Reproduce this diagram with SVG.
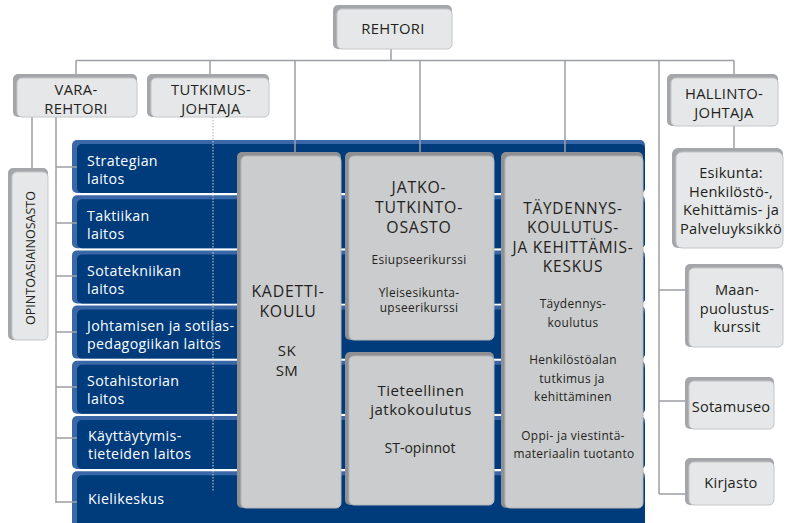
<svg xmlns="http://www.w3.org/2000/svg" width="785" height="523" viewBox="0 0 785 523">
<style>
.line{stroke:#9d9fa2;stroke-width:1.5;fill:none}
.dot{stroke:#b8bcc4;stroke-width:1.2;stroke-dasharray:1.5 1.5;fill:none}
.hb{fill:#a4a6a9}
.hf{fill:#e6e7e8;stroke:#c4c6c8;stroke-width:1}
.bb{fill:#3a67a8}
.bf{fill:#003b7c}
.cb{fill:#8e9093}
.cf{fill:#cbcccd;stroke:#b5b6b8;stroke-width:1}
text{font-family:"Open Sans","Liberation Sans",sans-serif;fill:#231f20;text-anchor:middle}
.w{fill:#ffffff;text-anchor:start;font-size:14.2px;letter-spacing:0.35px}
.h{font-size:14.8px;letter-spacing:0.3px}
.r{font-size:14.6px;letter-spacing:0.25px}
.big{font-size:15.8px;letter-spacing:0.8px}
.tb{font-size:15.4px;letter-spacing:0.8px}
.sm{font-size:11.9px;letter-spacing:0.35px}
.md{font-size:15px;letter-spacing:0.5px}
</style>
<rect width="785" height="523" fill="#ffffff"/>

<!-- blue rows -->
<g id="rows">
  <g id="row1"><rect class="bb" x="72" y="140" width="573" height="53" rx="5"/><rect class="bf" x="77" y="144" width="568" height="49" rx="5"/><text class="w" x="87" y="166">Strategian</text><text class="w" x="87" y="184">laitos</text></g>
  <g id="row2"><rect class="bb" x="72" y="195.2" width="573" height="53" rx="5"/><rect class="bf" x="77" y="199.2" width="568" height="49" rx="5"/><text class="w" x="87" y="221">Taktiikan</text><text class="w" x="87" y="239">laitos</text></g>
  <g id="row3"><rect class="bb" x="72" y="250.4" width="573" height="53" rx="5"/><rect class="bf" x="77" y="254.4" width="568" height="49" rx="5"/><text class="w" x="87" y="276">Sotatekniikan</text><text class="w" x="87" y="294">laitos</text></g>
  <g id="row4"><rect class="bb" x="72" y="305.6" width="573" height="53" rx="5"/><rect class="bf" x="77" y="309.6" width="568" height="49" rx="5"/><text class="w" x="87" y="331">Johtamisen ja sotilas-</text><text class="w" x="87" y="349">pedagogiikan laitos</text></g>
  <g id="row5"><rect class="bb" x="72" y="360.8" width="573" height="53" rx="5"/><rect class="bf" x="77" y="364.8" width="568" height="49" rx="5"/><text class="w" x="87" y="386">Sotahistorian</text><text class="w" x="87" y="404">laitos</text></g>
  <g id="row6"><rect class="bb" x="72" y="416" width="573" height="53" rx="5"/><rect class="bf" x="77" y="420" width="568" height="49" rx="5"/><text class="w" x="88" y="441">Käyttäytymis-</text><text class="w" x="88" y="459">tieteiden laitos</text></g>
  <g id="row7"><rect class="bb" x="72" y="471.2" width="573" height="56" rx="5"/><rect class="bf" x="77" y="475.2" width="568" height="52" rx="5"/><text class="w" x="88" y="504">Kielikeskus</text></g>
</g>

<!-- connectors -->
<g id="connectors">
  <path class="line" d="M391 49 V60.5 M76 60.5 H734 M76 60.5 V74 M210 60.5 V74 M295 60.5 V152 M420 60.5 V152 M565 60.5 V152 M659 60.5 V494 M734 60.5 V74 M734 126 V148"/>
  <path class="line" d="M32 117 V168 M56 117 V503"/>
  <path class="line" d="M56 167 H77 M56 223 H77 M56 276 H77 M56 332 H77 M56 387 H77 M56 438 H77 M56 502 H77"/>
  <path class="line" d="M659 290 H685 M659 401 H685 M659 494 H685"/>
  <path class="dot" d="M213 117 V492"/>
</g>

<!-- top boxes -->
<g id="rehtori"><rect class="hb" x="333" y="5" width="119" height="44" rx="5"/><rect class="hf" x="337" y="9" width="115" height="40" rx="5"/><text class="h" x="393" y="34" font-size="15.4">REHTORI</text></g>
<g id="vararehtori"><rect class="hb" x="13" y="74" width="124" height="43" rx="5"/><rect class="hf" x="17" y="78" width="120" height="39" rx="5"/><text class="h" x="76" y="94.5">VARA-</text><text class="h" x="76" y="113.5">REHTORI</text></g>
<g id="tutkimusjohtaja"><rect class="hb" x="147" y="74" width="122" height="43" rx="5"/><rect class="hf" x="151" y="78" width="118" height="39" rx="5"/><text class="h" x="211" y="94.5">TUTKIMUS-</text><text class="h" x="211" y="113.5">JOHTAJA</text></g>
<g id="hallintojohtaja"><rect class="hb" x="667" y="74" width="111" height="52" rx="5"/><rect class="hf" x="671" y="78" width="107" height="48" rx="5"/><text class="h" x="724" y="98.5">HALLINTO-</text><text class="h" x="724" y="117.5">JOHTAJA</text></g>

<g id="opintoasiainosasto"><rect class="hb" x="8" y="168" width="40" height="172" rx="5"/><rect class="hf" x="12" y="172" width="36" height="168" rx="5"/><text font-size="12.5" transform="translate(35 258) rotate(-90)">OPINTOASIAINOSASTO</text></g>

<!-- grey columns -->
<g id="kadettikoulu"><rect class="cb" x="237" y="152" width="104" height="356" rx="5"/><rect class="cf" x="241" y="156" width="100" height="352" rx="5"/><text class="big" x="288" y="297">KADETTI-</text><text class="big" x="288" y="317">KOULU</text><text class="md" x="287" y="356">SK</text><text class="md" x="287" y="376">SM</text></g>
<g id="jatkotutkinto"><rect class="cb" x="345" y="152" width="149" height="188" rx="5"/><rect class="cf" x="349" y="156" width="145" height="184" rx="5"/><text class="big" x="419" y="193">JATKO-</text><text class="big" x="419" y="213">TUTKINTO-</text><text class="big" x="419" y="233">OSASTO</text><text class="sm" x="419" y="264">Esiupseerikurssi</text><text class="sm" x="419" y="297">Yleisesikunta-</text><text class="sm" x="419" y="312">upseerikurssi</text></g>
<g id="tieteellinen"><rect class="cb" x="345" y="352" width="149" height="153" rx="5"/><rect class="cf" x="349" y="356" width="145" height="149" rx="5"/><text class="md" x="421" y="396">Tieteellinen</text><text class="md" x="421" y="415">jatkokoulutus</text><text font-size="14" x="420" y="453">ST-opinnot</text></g>
<g id="taydennys"><rect class="cb" x="501" y="152" width="142" height="356" rx="5"/><rect class="cf" x="505" y="156" width="138" height="352" rx="5"/><text class="tb" x="573" y="213.5">TÄYDENNYS-</text><text class="tb" x="573" y="233">KOULUTUS-</text><text class="tb" x="573" y="252.5">JA KEHITTÄMIS-</text><text class="tb" x="573" y="272">KESKUS</text><text class="sm" x="573" y="308">Täydennys-</text><text class="sm" x="573" y="327">koulutus</text><text class="sm" x="573" y="364">Henkilöstöalan</text><text class="sm" x="572" y="383">tutkimus ja</text><text class="sm" x="573" y="401">kehittäminen</text><text class="sm" x="573" y="440">Oppi- ja viestintä-</text><text class="sm" x="574" y="458">materiaalin tuotanto</text></g>

<!-- right boxes -->
<g id="esikunta"><rect class="hb" x="672" y="148" width="111" height="100" rx="6"/><rect class="hf" x="676" y="152" width="107" height="96" rx="6"/><text class="r" x="731" y="178">Esikunta:</text><text class="r" x="731" y="196.7">Henkilöstö-,</text><text class="r" x="731" y="215.4">Kehittämis- ja</text><text class="r" x="731" y="234">Palveluyksikkö</text></g>
<g id="maanpuolustus"><rect class="hb" x="685" y="264" width="98" height="83" rx="5"/><rect class="hf" x="689" y="268" width="94" height="79" rx="5"/><text class="r" x="737" y="295">Maan-</text><text class="r" x="737" y="313.5">puolustus-</text><text class="r" x="737" y="332">kurssit</text></g>
<g id="sotamuseo"><rect class="hb" x="685" y="377" width="89" height="52" rx="5"/><rect class="hf" x="689" y="381" width="85" height="48" rx="5"/><text class="r" x="731" y="412" font-size="15.4">Sotamuseo</text></g>
<g id="kirjasto"><rect class="hb" x="685" y="458" width="89" height="47" rx="5"/><rect class="hf" x="689" y="462" width="85" height="43" rx="5"/><text class="r" x="731" y="488" font-size="15.4">Kirjasto</text></g>
</svg>
